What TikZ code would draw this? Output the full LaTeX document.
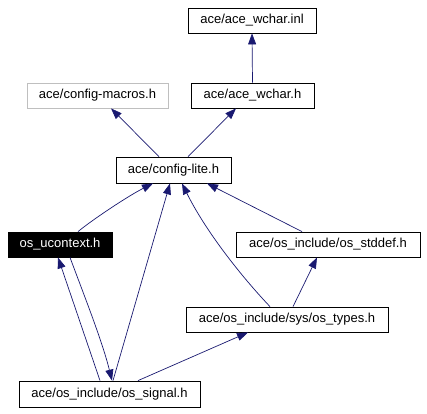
\documentclass[tikz,border=0pt]{standalone}
\usepackage{fontspec}
\setmainfont{Liberation Sans}
\usetikzlibrary{arrows.meta}

\definecolor{edgeblue}{HTML}{191970}
\definecolor{boxgray}{HTML}{BFBFBF}

\begin{document}
\begin{tikzpicture}[x=1pt,y=-1pt,
    file/.style={draw=black,fill=white,minimum height=25pt,inner sep=0pt,
      font=\fontsize{13}{15}\selectfont,line width=0.8pt},
    dep/.style={-{Triangle[length=11pt,width=8pt]},draw=edgeblue,line width=0.7pt}]
    \useasboundingbox (0,0) rectangle (427,413);

    % files
    \node[file,minimum width=128pt] (inl) at (252,20.5) {ace/ace\_wchar.inl};
    \node[file,draw=boxgray,minimum width=141pt] (macros) at (97.5,95.5) {ace/config-macros.h};
    \node[file,minimum width=123pt] (wcharh) at (252.5,95.5) {ace/ace\_wchar.h};
    \node[file,minimum width=115pt,minimum height=26pt] (lite) at (173.5,170) {ace/config-lite.h};
    \node[file,fill=black,text=white,minimum width=104pt] (ucontext) at (60,244.5) {os\_ucontext.h};
    \node[file,minimum width=184pt] (stddef) at (328,244.5) {ace/os\_include/os\_stddef.h};
    \node[file,minimum width=202pt] (types) at (287,319.5) {ace/os\_include/sys/os\_types.h};
    \node[file,minimum width=181pt,minimum height=26pt] (signal) at (109.5,394) {ace/os\_include/os\_signal.h};

    % includes
    \draw[dep] (wcharh.north) -- (inl.south);
    \draw[dep] ([xshift=-14.5pt]lite.north) -- ([xshift=13.5pt]macros.south);
    \draw[dep] ([xshift=14.5pt]lite.north) -- ([xshift=-16.5pt]wcharh.south);
    \draw[dep] ([xshift=18pt]ucontext.north) .. controls (92,220) and (128,196) .. ([xshift=-20.5pt]lite.south);
    \draw[dep] ([xshift=3.5pt]signal.north) -- ([xshift=-3.5pt]lite.south);
    \draw[dep] ([xshift=-9.5pt]signal.north) -- ([xshift=-2pt]ucontext.south);
    \draw[dep] ([xshift=10pt]ucontext.south) .. controls (82,290) and (102,340) .. ([xshift=2.5pt]signal.north);
    \draw[dep] ([xshift=-17pt]types.north) .. controls (240,275) and (205,230) .. ([xshift=8.5pt]lite.south);
    \draw[dep] ([xshift=-26pt]stddef.north) -- ([xshift=33.5pt]lite.south);
    \draw[dep] ([xshift=6pt]types.north) -- ([xshift=-11pt]stddef.south);
    \draw[dep] ([xshift=28.5pt]signal.north) -- ([xshift=-39pt]types.south);
\end{tikzpicture}
\end{document}
